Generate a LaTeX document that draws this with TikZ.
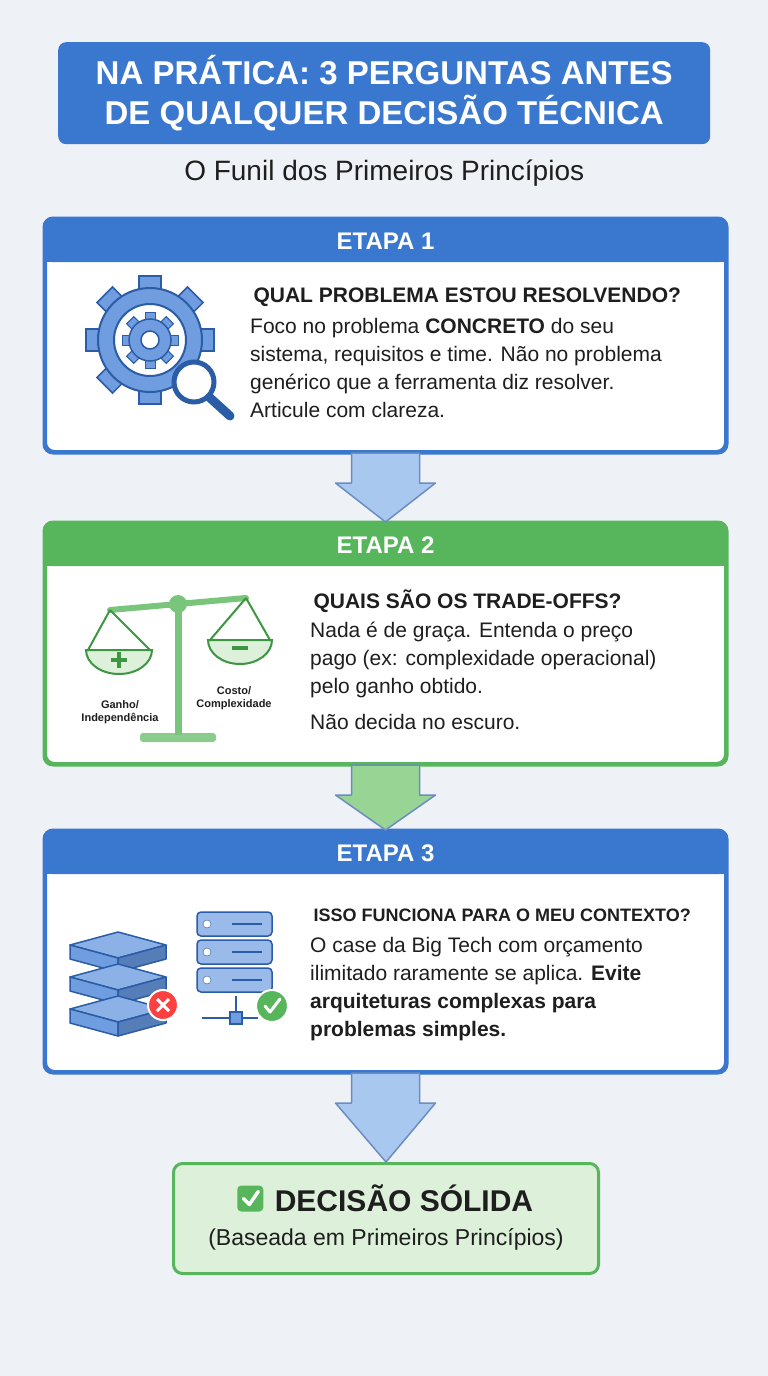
\documentclass[tikz,border=0pt]{standalone}
\usepackage{fontspec}
\setmainfont{Liberation Sans}
\usetikzlibrary{calc,positioning}
\definecolor{bg}{HTML}{EEF1F5}
\definecolor{myblue}{HTML}{3A77CF}
\definecolor{darkblue}{HTML}{2B5CA6}
\definecolor{iconblue}{HTML}{6F9DE0}
\definecolor{arrowblue}{HTML}{A9C8F0}
\definecolor{mygreen}{HTML}{57B65B}
\definecolor{darkgreen}{HTML}{3C9642}
\definecolor{lightgreen}{HTML}{DDF1DA}
\definecolor{arrowgreen}{HTML}{98D494}
\definecolor{txt}{HTML}{1E1E1E}
\tikzset{
  stage/.style={draw=#1, line width=3pt, fill=white, rounded corners=9pt, minimum width=680pt, anchor=north west, inner sep=0pt},
  band/.style={text=white, font=\fontsize{24}{28}\selectfont\bfseries},
  head/.style={anchor=west, text=txt, font=\fontsize{21}{25}\selectfont\bfseries},
  body/.style={anchor=north west, text=txt, align=left, inner sep=0pt, font=\fontsize{21}{28}\selectfont},
  blockarrow/.style={fill=#1, draw=darkblue!70, line width=1.5pt, line join=round},
}
\newcommand{\headband}[3]{% node, colour, text
  \fill[#2, rounded corners=8pt] (#1.north west) rectangle ($(#1.north east)+(0,44)$);
  \fill[#2] ($(#1.north west)+(0,30)$) rectangle ($(#1.north east)+(0,44)$);
  \draw[#2, line width=3pt, rounded corners=9pt] (#1.north west) rectangle (#1.south east);
  \node[band] at ($(#1.north)+(0,23)$) {#3};}
\newcommand{\funnelarrow}[3]{% from, to, colour
  \draw[blockarrow=#3] ($(#1.south)+(-34,0)$) -- ($(#1.south)+(34,0)$) -- ($(#1.south)+(34,30)$)
    -- ($(#1.south)+(50,30)$) -- (#2.north) -- ($(#1.south)+(-50,30)$)
    -- ($(#1.south)+(-34,30)$) -- cycle;}
\begin{document}
\begin{tikzpicture}[x=1pt,y=-1pt]
\fill[bg] (0,0) rectangle (768,1376);
\useasboundingbox (0,0) rectangle (768,1376);
% title
\node[fill=myblue, rounded corners=8pt, minimum width=652pt, minimum height=102pt, anchor=north west,
  text=white, align=center, font=\fontsize{33}{40}\selectfont\bfseries] (title) at (58,42)
  {NA PRÁTICA: 3 PERGUNTAS ANTES\\DE QUALQUER DECISÃO TÉCNICA};
\node[below=12pt of title, text=txt, font=\fontsize{28}{32}\selectfont] (sub) {O Funil dos Primeiros Princípios};
% stages
\node[stage=myblue, minimum height=232pt] (s1) at (44,218) {};
\node[stage=mygreen, minimum height=240pt] (s2) at (44,522) {};
\node[stage=myblue, minimum height=240pt] (s3) at (44,830) {};
\headband{s1}{myblue}{ETAPA 1}
\headband{s2}{mygreen}{ETAPA 2}
\headband{s3}{myblue}{ETAPA 3}
% arrows
\funnelarrow{s1}{s2}{arrowblue}
\funnelarrow{s2}{s3}{arrowgreen}
\node[fill=lightgreen, draw=mygreen, line width=3pt, rounded corners=9pt, minimum width=425pt,
  minimum height=110pt, anchor=north west] (final) at (172,1162) {};
\funnelarrow{s3}{final}{arrowblue}
% stage 1 text
\node[head] (h1) at (250,297) {QUAL PROBLEMA ESTOU RESOLVENDO?};
\node[body] (b1) at (250,318) {Foco no problema \textbf{CONCRETO} do seu\\sistema, requisitos e time. Não no problema\\genérico que a ferramenta diz resolver.\\Articule com clareza.};
% gear icon
\begin{scope}[shift={(150,340)}]
  \foreach \a in {0,45,...,315}
    \fill[iconblue, draw=darkblue, line width=1.5pt, rotate=\a] (-11,-48) rectangle (11,-64);
  \fill[iconblue, draw=darkblue, line width=2pt] (0,0) circle (52);
  \fill[white, draw=darkblue, line width=2pt] (0,0) circle (36);
  \foreach \a in {0,45,...,315}
    \fill[iconblue, draw=darkblue, line width=1pt, rotate=\a] (-5,-20) rectangle (5,-28);
  \fill[iconblue, draw=darkblue, line width=1.5pt] (0,0) circle (21);
  \fill[white, draw=darkblue, line width=1.5pt] (0,0) circle (9);
  \draw[darkblue, line width=9pt, line cap=round] (58,56) -- (80,76);
  \fill[white, draw=darkblue, line width=5pt] (44,42) circle (20);
\end{scope}
% stage 2 text
\node[head] (h2) at (310,601) {QUAIS SÃO OS TRADE-OFFS?};
\node[body] (b2) at (310,622) {Nada é de graça. Entenda o preço\\pago (ex: complexidade operacional)\\pelo ganho obtido.};
\node[body, below=16pt of b2.south west, anchor=north west] (b2b) {Não decida no escuro.};
% scale icon
\begin{scope}[darkgreen, line width=2pt]
  \fill[mygreen!70, rounded corners=3pt] (140,733) rectangle (216,742);
  \draw[line width=7pt, mygreen!80] (178,605) -- (178,735);
  \draw[line width=6pt, mygreen!80, line cap=round] (110,610) -- (246,598);
  \fill[mygreen!80] (178,604) circle (9);
  \draw (110,610) -- (88,650) (110,610) -- (150,650);
  \draw (246,598) -- (210,640) (246,598) -- (270,640);
  \fill[lightgreen, draw=darkgreen] (86,650) -- (152,650) arc (0:180:33 and 24) -- cycle;
  \fill[lightgreen, draw=darkgreen] (208,640) -- (272,640) arc (0:180:32 and 24) -- cycle;
  \draw[line width=3.5pt] (119,652) -- (119,668) (111,660) -- (127,660);
  \draw[line width=3.5pt] (232,648) -- (248,648);
\end{scope}
\node[align=center, font=\fontsize{11}{13}\selectfont\bfseries, text=txt] (gain) at (120,712) {Ganho/\\Independência};
\node[align=center, font=\fontsize{11}{13}\selectfont\bfseries, text=txt] (cost) at (234,698) {Costo/\\Complexidade};
% stage 3 text
\node[head, font=\fontsize{18}{22}\selectfont\bfseries] (h3) at (310,915) {ISSO FUNCIONA PARA O MEU CONTEXTO?};
\node[body] (b3) at (310,937) {O case da Big Tech com orçamento\\ilimitado raramente se aplica. \textbf{Evite}\\\textbf{arquiteturas complexas para}\\\textbf{problemas simples.}};
% server icons
\foreach \i in {0,1,2} {
  \fill[iconblue!80, draw=darkblue, line width=1.5pt, line join=round]
    (70,945+\i*32) -- (118,932+\i*32) -- (166,945+\i*32) -- (118,958+\i*32) -- cycle;
  \fill[iconblue, draw=darkblue, line width=1.5pt, line join=round]
    (70,945+\i*32) -- (118,958+\i*32) -- (118,972+\i*32) -- (70,959+\i*32) -- cycle;
  \fill[darkblue!80, draw=darkblue, line width=1.5pt, line join=round]
    (118,958+\i*32) -- (166,945+\i*32) -- (166,959+\i*32) -- (118,972+\i*32) -- cycle;
}
\fill[red!75, draw=white, line width=2pt] (163,1005) circle (15);
\draw[white, line width=3pt] (157,999) -- (169,1011) (169,999) -- (157,1011);
\foreach \i in {0,1,2} {
  \fill[iconblue!70, draw=darkblue, line width=1.5pt, rounded corners=4pt] (197,912+\i*28) rectangle (272,936+\i*28);
  \fill[white, draw=darkblue] (207,924+\i*28) circle (4);
  \draw[darkblue, line width=2pt] (232,924+\i*28) -- (262,924+\i*28);
}
\draw[darkblue, line width=2pt] (236,996) -- (236,1016) (202,1018) -- (258,1018);
\fill[iconblue, draw=darkblue, line width=1.5pt] (230,1012) rectangle (242,1024);
\fill[mygreen, draw=white, line width=2pt] (272,1006) circle (16);
\draw[white, line width=3pt, line cap=round, line join=round] (265,1006) -- (270,1012) -- (280,999);
% final
\node[text=txt, font=\fontsize{30}{34}\selectfont\bfseries] (fin) at ($(final.center)+(18,-20)$) {DECISÃO SÓLIDA};
\fill[mygreen, rounded corners=4pt] ($(fin.west)+(-34,-13)$) rectangle ($(fin.west)+(-8,13)$);
\draw[white, line width=3.5pt, line cap=round, line join=round] ($(fin.west)+(-28,0)$) -- ($(fin.west)+(-22,6)$) -- ($(fin.west)+(-13,-7)$);
\node[text=txt, font=\fontsize{23}{27}\selectfont] (base) at ($(final.center)+(0,21)$) {(Baseada em Primeiros Princípios)};
\end{tikzpicture}
\end{document}
